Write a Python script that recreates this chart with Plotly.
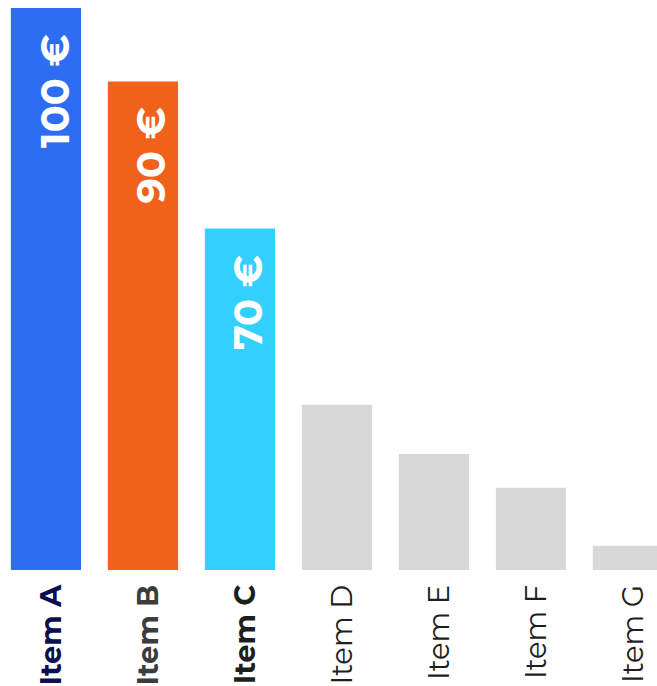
import plotly.graph_objects as go

# Chart data
categories = ["Item A", "Item B", "Item C", "Item D", "Item E", "Item F", "Item G"]
values = [100, 90, 70, 46, 39.3, 34.7, 26.8]
bar_colors = ["#2D6DF2", "#F0611A", "#31D0FE", "#D8D8D8", "#D8D8D8", "#D8D8D8", "#D8D8D8"]
tick_colors = ["#0C0F4E", "#3C3C3C", "#1E1E1E", "#1E1E1E", "#1E1E1E", "#1E1E1E", "#1E1E1E"]
highlighted = 3  # first bars carry a value label and bold tick text
currency = "€"

FONT = "Montserrat, Inter, sans-serif"

positions = list(range(len(categories)))

tick_text = []
for i, (cat, col) in enumerate(zip(categories, tick_colors)):
    label = f"<b>{cat}</b>" if i < highlighted else cat
    tick_text.append(f"<span style='color:{col}'>{label}</span>")

fig = go.Figure(
    go.Bar(
        x=positions,
        y=values,
        marker=dict(color=bar_colors, line=dict(width=0)),
        hovertext=categories,
        hoverinfo="text+y",
    )
)

for i in range(highlighted):
    fig.add_annotation(
        x=positions[i],
        y=values[i],
        text=f"<b>{values[i]} {currency}</b>",
        textangle=-90,
        showarrow=False,
        xanchor="center",
        yanchor="top",
        yshift=-24,
        xshift=8,
        font=dict(family=FONT, size=40, color="white"),
    )

fig.update_layout(
    width=657,
    height=686,
    margin=dict(l=0, r=0, t=0, b=116),
    paper_bgcolor="white",
    plot_bgcolor="white",
    bargap=0.276,
    showlegend=False,
    font=dict(family=FONT, size=29),
    xaxis=dict(
        range=[-0.474, 6.30],
        tickmode="array",
        # labels sit a touch right of each bar centre
        tickvals=[p + 0.055 for p in positions],
        ticktext=tick_text,
        tickangle=-90,
        tickfont=dict(family=FONT, size=29),
        ticklabelstandoff=8,
        showgrid=False,
        showline=False,
        zeroline=False,
        ticks="",
    ),
    yaxis=dict(
        range=[23.5, 101.1],
        visible=False,
        showgrid=False,
        zeroline=False,
    ),
)

fig.write_html("out.html")
